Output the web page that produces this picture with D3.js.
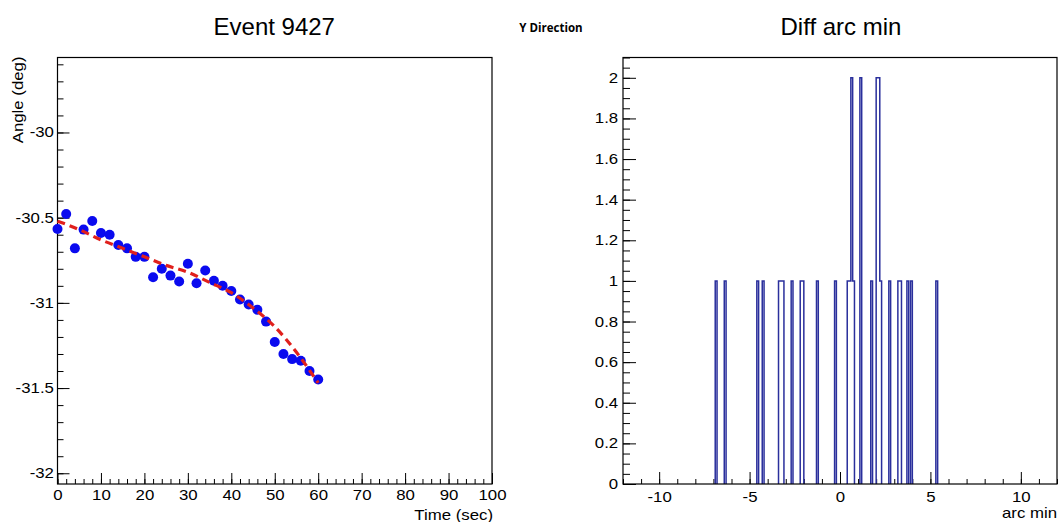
<!DOCTYPE html>
<html>
<head>
<meta charset="utf-8" />
<title>Event 9427</title>
<script src="https://d3js.org/d3.v7.min.js"></script>
<style>
  body { margin: 0; background: #fff; }
  svg { display: block; font-family: "Liberation Sans", Arial, sans-serif; }
  .tick line { stroke: #000; }
  .tick text { fill: #000; }
</style>
</head>
<body>
<script>
// left panel: measured angle vs time, with fitted curve
const timeSec = [0, 2, 4, 6, 8, 10, 12, 14, 16, 18, 20, 22, 24, 26, 28, 30,
  32, 34, 36, 38, 40, 42, 44, 46, 48, 50, 52, 54, 56, 58, 60];
const angleDeg = [-30.566, -30.478, -30.68, -30.57, -30.52, -30.59, -30.60,
  -30.66, -30.68, -30.73, -30.73, -30.85, -30.80, -30.84, -30.875, -30.77,
  -30.885, -30.81, -30.87, -30.90, -30.93, -30.98, -31.01, -31.04, -31.11,
  -31.23, -31.30, -31.33, -31.34, -31.40, -31.45];
const fitTime = [0, 5, 10, 15, 20, 25, 30, 35, 40, 45, 50, 55, 60];
const fitAngle = [-30.52, -30.57, -30.63, -30.68, -30.73, -30.78, -30.82,
  -30.88, -30.94, -31.03, -31.14, -31.29, -31.47];
const angleTicks = [-32, -31.5, -31, -30.5, -30];
const angleLabels = ["-32", "-31.5", "-31", "-30.5", "-30"];
const timeTicks = [0, 10, 20, 30, 40, 50, 60, 70, 80, 90, 100];

// right panel: histogram of differences (bin centres, bin width 0.1)
const diffBinCenters = [-6.85, -6.35, -4.55, -4.25, -3.35, -3.25, -3.15, -2.65,
  -2.15, -2.05, -1.25, -0.25, 0.45, 0.55, 0.65, 0.75, 1.15, 1.75, 2.05, 2.15,
  2.25, 2.75, 3.25, 3.35, 3.75, 3.95, 5.35];
const diffCounts = [1, 1, 1, 1, 1, 1, 1, 1, 1, 1, 1, 1, 1, 1, 2, 1, 2, 1, 2, 2,
  1, 1, 1, 1, 1, 1, 1];
const countTicks = [0, 0.2, 0.4, 0.6, 0.8, 1, 1.2, 1.4, 1.6, 1.8, 2];
const countLabels = ["0", "0.2", "0.4", "0.6", "0.8", "1", "1.2", "1.4", "1.6", "1.8", "2"];
const diffTicks = [-10, -5, 0, 5, 10];
const diffLabels = ["-10", "-5", "0", "5", "10"];

const W = 1058, H = 522;
const sx = 1.2; // small text in the picture is horizontally wide

const svg = d3.select("body").append("svg")
  .attr("width", W).attr("height", H);

// ---------- left panel ----------
const L = { left: 57.5, right: 492, top: 57.5, bottom: 484 };
const xL = d3.scaleLinear().domain([0, 100]).range([L.left, L.right]);
const yL = d3.scaleLinear().domain([-32.063, -29.56]).range([L.bottom, L.top]);

const gL = svg.append("g");

gL.append("g")
  .attr("transform", `translate(0,${L.bottom})`)
  .call(d3.axisBottom(xL).tickValues(d3.range(0, 101, 2)).tickFormat("")
    .tickSizeInner(-5).tickSizeOuter(0));
gL.append("g")
  .attr("transform", `translate(0,${L.bottom})`)
  .call(d3.axisBottom(xL).tickValues(timeTicks).tickFormat(d => String(d))
    .tickSizeInner(-11).tickSizeOuter(0).tickPadding(6))
  .selectAll("text").attr("font-size", 14).attr("transform", `scale(${sx},1)`);

gL.append("g")
  .attr("transform", `translate(${L.left},0)`)
  .call(d3.axisLeft(yL).tickValues(d3.range(-320, -295, 1).map(d => d / 10)).tickFormat("")
    .tickSizeInner(-6).tickSizeOuter(0));
gL.append("g")
  .attr("transform", `translate(${L.left},0)`)
  .call(d3.axisLeft(yL).tickValues(angleTicks).tickFormat((d, i) => angleLabels[i])
    .tickSizeInner(-12).tickSizeOuter(0).tickPadding(3))
  .selectAll("text").attr("font-size", 14).attr("transform", `scale(${sx},1)`);

gL.selectAll(".domain").remove();

gL.append("rect")
  .attr("x", L.left).attr("y", L.top)
  .attr("width", L.right - L.left).attr("height", L.bottom - L.top)
  .attr("fill", "none").attr("stroke", "#000").attr("stroke-width", 1.2);

// data points
gL.selectAll("circle.pt")
  .data(timeSec.map((t, i) => [t, angleDeg[i]]))
  .enter().append("circle")
  .attr("class", "pt")
  .attr("cx", d => xL(d[0]))
  .attr("cy", d => yL(d[1]))
  .attr("r", 5)
  .attr("fill", "#0a0aef");

// fitted curve
gL.append("path")
  .datum(fitTime.map((t, i) => [t, fitAngle[i]]))
  .attr("fill", "none")
  .attr("stroke", "#e0201c")
  .attr("stroke-width", 3.2)
  .attr("stroke-dasharray", "8,5")
  .attr("d", d3.line().x(d => xL(d[0])).y(d => yL(d[1])).curve(d3.curveMonotoneX));

gL.append("text")
  .attr("x", (L.left + L.right) / 2 - 0.5).attr("y", 35)
  .attr("text-anchor", "middle").attr("font-size", 24)
  .text("Event 9427");

gL.append("text")
  .attr("transform", `translate(${L.right + 1},520) scale(${sx},1)`)
  .attr("text-anchor", "end").attr("font-size", 14)
  .text("Time (sec)");

gL.append("text")
  .attr("transform", `translate(23,${L.top - 1}) rotate(-90) scale(${sx},1)`)
  .attr("text-anchor", "end").attr("font-size", 14)
  .text("Angle (deg)");

svg.append("text")
  .attr("x", 551).attr("y", 32)
  .attr("text-anchor", "middle")
  .attr("font-family", "'Open Sans', sans-serif")
  .attr("font-weight", 700).attr("font-size", 11.5)
  .text("Y Direction");

// ---------- right panel ----------
const R = { left: 623, right: 1057, top: 57.5, bottom: 484 };
const xR = d3.scaleLinear().domain([-12, 12]).range([R.left, R.right]);
const yR = d3.scaleLinear().domain([0, 2.1]).range([R.bottom, R.top]);

const gR = svg.append("g");

gR.append("g")
  .attr("transform", `translate(0,${R.bottom})`)
  .call(d3.axisBottom(xR).tickValues(d3.range(-12, 13, 1)).tickFormat("")
    .tickSizeInner(-5).tickSizeOuter(0));
gR.append("g")
  .attr("transform", `translate(0,${R.bottom})`)
  .call(d3.axisBottom(xR).tickValues(diffTicks).tickFormat((d, i) => diffLabels[i])
    .tickSizeInner(-12).tickSizeOuter(0).tickPadding(8))
  .selectAll("text").attr("font-size", 14).attr("transform", `scale(${sx},1)`);

gR.append("g")
  .attr("transform", `translate(${R.left},0)`)
  .call(d3.axisLeft(yR).tickValues(d3.range(0, 43, 1).map(d => d * 0.05)).tickFormat("")
    .tickSizeInner(-7).tickSizeOuter(0));
gR.append("g")
  .attr("transform", `translate(${R.left},0)`)
  .call(d3.axisLeft(yR).tickValues(countTicks).tickFormat((d, i) => countLabels[i])
    .tickSizeInner(-13).tickSizeOuter(0).tickPadding(4))
  .selectAll("text").attr("font-size", 14).attr("transform", `scale(${sx},1)`);

gR.selectAll(".domain").remove();

// histogram outline, one path per run of filled bins
const binW = 0.1;
const nBins = 240;
const counts = new Array(nBins).fill(0);
diffBinCenters.forEach((c, i) => {
  counts[Math.round((c + 12) / binW - 0.5)] = diffCounts[i];
});
const edge = k => (-120 + k) / 10;
const runs = [];
let cur = null;
for (let k = 0; k < nBins; k++) {
  if (counts[k] > 0) {
    if (!cur) { cur = [[edge(k), 0]]; }
    cur.push([edge(k), counts[k]], [edge(k + 1), counts[k]]);
  } else if (cur) {
    cur.push([edge(k), 0]);
    runs.push(cur);
    cur = null;
  }
}
if (cur) { cur.push([edge(nBins), 0]); runs.push(cur); }

gR.selectAll("path.hist")
  .data(runs)
  .enter().append("path")
  .attr("class", "hist")
  .attr("fill", "none")
  .attr("stroke", "#2a2f9c")
  .attr("stroke-width", 1.5)
  .attr("d", d3.line().x(d => xR(d[0])).y(d => yR(d[1])));

gR.append("rect")
  .attr("x", R.left).attr("y", R.top)
  .attr("width", R.right - R.left).attr("height", R.bottom - R.top)
  .attr("fill", "none").attr("stroke", "#000").attr("stroke-width", 1.2);

gR.append("text")
  .attr("x", 841).attr("y", 35)
  .attr("text-anchor", "middle").attr("font-size", 24)
  .text("Diff arc min");

gR.append("text")
  .attr("transform", `translate(1057,518) scale(${sx},1)`)
  .attr("text-anchor", "end").attr("font-size", 14)
  .text("arc min");
</script>
</body>
</html>
